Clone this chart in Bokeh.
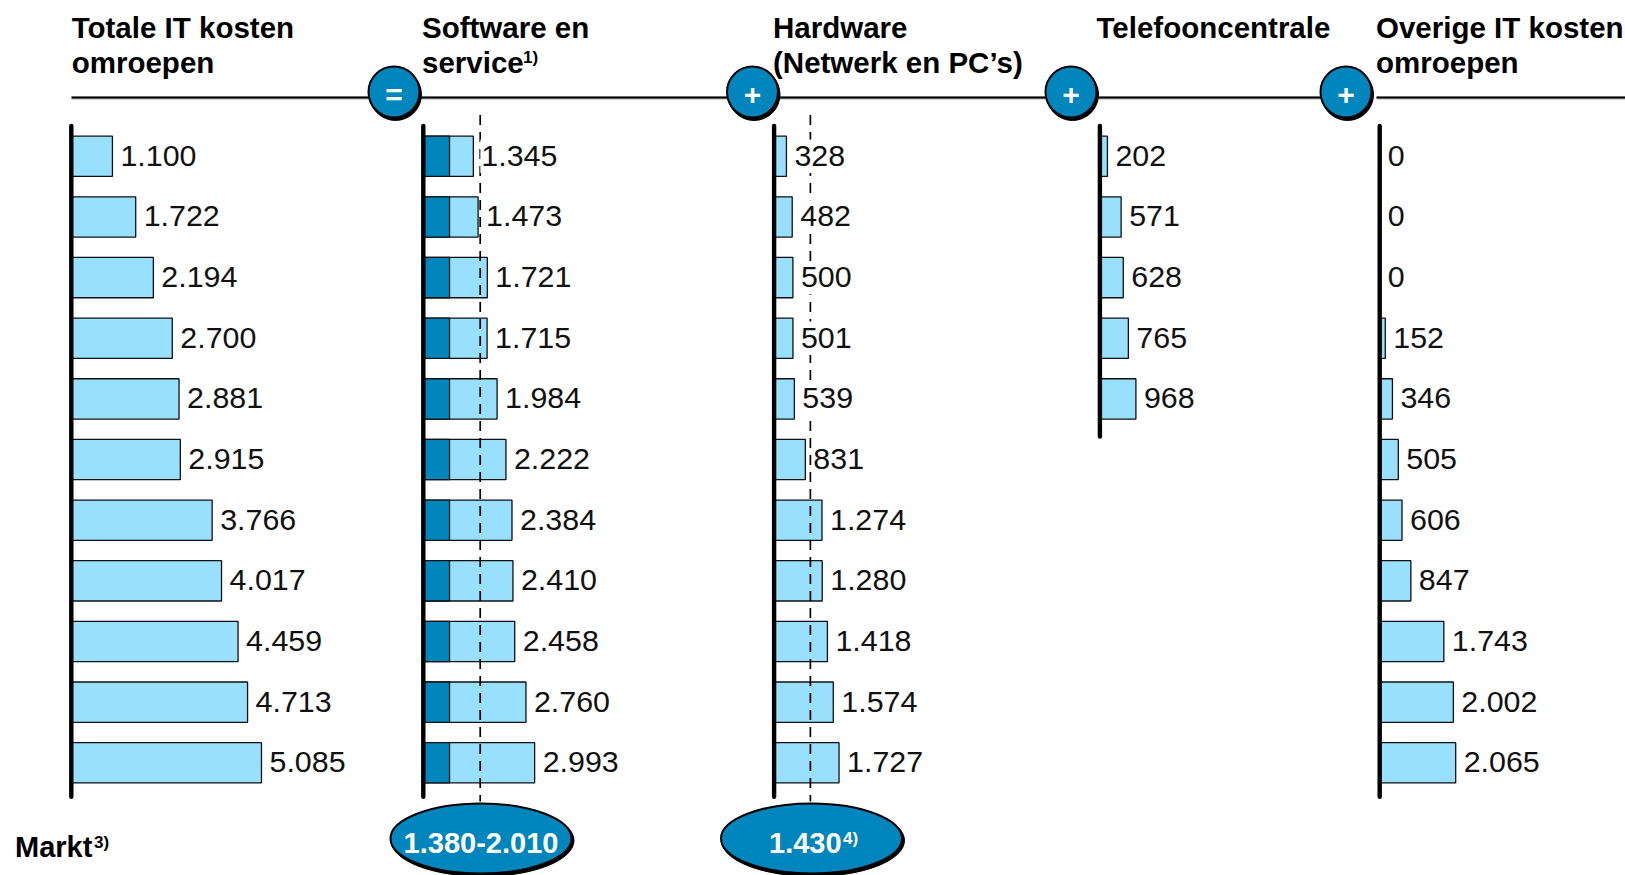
from bokeh.plotting import figure
from bokeh.models import Range1d
from bokeh.core.properties import value
from bokeh.embed import file_html
from bokeh.resources import INLINE

total = [1100, 1722, 2194, 2700, 2881, 2915, 3766, 4017, 4459, 4713, 5085]
software = [1345, 1473, 1721, 1715, 1984, 2222, 2384, 2410, 2458, 2760, 2993]
software_dark = [705] * 11
hardware = [328, 482, 500, 501, 539, 831, 1274, 1280, 1418, 1574, 1727]
telefoon = [202, 571, 628, 765, 968]
overig = [0, 0, 0, 152, 346, 505, 606, 847, 1743, 2002, 2065]
software_ref = 1530
hardware_ref = 965
titles = [["Totale IT kosten", "omroepen"], ["Software en", "service"],
          ["Hardware", "(Netwerk en PC\u2019s)"], ["Telefooncentrale"],
          ["Overige IT kosten", "omroepen"]]
market = ["1.380-2.010", "1.430"]

LIGHT, DARK = "#99E0FF", "#0085BC"
FONT = value("Liberation Sans")
W, H = 1625, 875
OX, OY = 0, 0
LABEL_PX, LABEL_GAP = 30.4, 8

p = figure(width=W, height=H, output_backend="svg", toolbar_location=None,
           x_axis_type=None, y_axis_type=None, min_border=0,
           outline_line_color=None, background_fill_color="white",
           x_range=Range1d(OX, OX + W), y_range=Range1d(OY + H, OY))
p.grid.visible = False

ROW0, PITCH = 155.8, 60.65
p.extra_y_ranges["rows"] = Range1d((OY + H - ROW0) / PITCH, (OY - ROW0) / PITCH)

panels = [("a", total, 70.8, .0374), ("b", software, 422.8, .0372),
          ("c", hardware, 773.6, .0376), ("d", telefoon, 1099.4, .0372),
          ("e", overig, 1379.2, .0368)]


def fmt(v):
    return f"{v:,}".replace(",", ".")


def label_width(s):
    return sum(0.278 if ch == "." else 0.556 for ch in s) * LABEL_PX


for name, vals, x0, k in panels:
    p.extra_x_ranges[name] = Range1d((OX - x0) / k, (OX + W - x0) / k)
    rows = list(range(len(vals)))
    p.hbar(y=rows, left=0, right=vals, height=0.665, fill_color=LIGHT, line_color="#101010",
           line_width=1.3, x_range_name=name, y_range_name="rows")
    if name == "b":
        p.hbar(y=rows, left=0, right=software_dark, height=0.665, fill_color=DARK, line_color="#101010",
               line_width=1.3, x_range_name=name, y_range_name="rows")

# dashed reference lines
for name, v in (("b", software_ref), ("c", hardware_ref)):
    p.segment(x0=[v], x1=[v], y0=[-0.68], y1=[10.64], line_color="black", line_width=1.7,
              line_dash="10 7", x_range_name=name, y_range_name="rows")

# baselines
for name, vals, x0, k in panels:
    bottom = 10.56 if len(vals) == 11 else 4.62
    p.segment(x0=[0], x1=[0], y0=[-0.5], y1=[bottom], line_color="black", line_width=4.4,
              line_cap="round", x_range_name=name, y_range_name="rows")

# value labels: white boxes interrupt the dashed lines
for name, vals, x0, k in panels:
    rows = list(range(len(vals)))
    labels = [fmt(v) for v in vals]
    p.hbar(y=rows, left=[v + (LABEL_GAP - 1) / k for v in vals],
           right=[v + (LABEL_GAP + 1 + label_width(s)) / k for v, s in zip(vals, labels)],
           height=0.55, fill_color="white", line_color=None, x_range_name=name, y_range_name="rows")
    p.text(x=vals, y=[i - 0.01 for i in rows], text=labels, text_font=FONT,
           text_font_size=f"{LABEL_PX}px", text_color="#111111", text_baseline="middle", x_offset=LABEL_GAP,
           x_range_name=name, y_range_name="rows")

# header rule
p.segment(x0=[71, 1376], x1=[1372, 1625], y0=[97.5, 97.5], y1=[97.5, 97.5], line_color="#b0b0b0", line_width=3)
p.segment(x0=[71, 1376], x1=[1372, 1625], y0=[97, 97], y1=[97, 97], line_color="black", line_width=2)

# operator badges
cx = [393.5, 752, 1070.5, 1345.5]
sym = ["=", "+", "+", "+"]
p.circle(x=[c + 1.5 for c in cx], y=[94] * 4, radius=26, fill_color="black", line_color="black")
p.circle(x=cx, y=[91.5] * 4, radius=25.5, fill_color=DARK, line_color="black", line_width=2)
p.text(x=cx, y=[94] * 4, text=sym, text_font=FONT, text_font_style="bold", text_font_size="30px",
       text_color="white", text_align="center", text_baseline="middle")

# column titles
tx = [71.2, 421.5, 772.5, 1096, 1375.5]
for x, lines in zip(tx, titles):
    for j, t in enumerate(lines):
        p.text(x=[x], y=[27 + 35 * j], text=[t], text_font=FONT, text_font_style="bold",
               text_font_size="29.5px", text_color="black", text_baseline="middle")
p.text(x=[522.5], y=[57], text=["1)"], text_font=FONT, text_font_style="bold", text_font_size="17px",
       text_color="black", text_baseline="middle")

# market row
p.text(x=[14.5], y=[846], text=["Markt"], text_font=FONT, text_font_style="bold", text_font_size="29px",
       text_color="black", text_baseline="middle")
p.text(x=[93.5], y=[842], text=["3)"], text_font=FONT, text_font_style="bold", text_font_size="17px",
       text_color="black", text_baseline="middle")
ex = [480.5, 811]
p.ellipse(x=[e + 1.5 for e in ex], y=[840] * 2, width=183, height=72, fill_color="black", line_color="black")
p.ellipse(x=ex, y=[838] * 2, width=181, height=70, fill_color=DARK, line_color="black", line_width=2)
p.text(x=[480.5], y=[842], text=[market[0]], text_font=FONT, text_font_style="bold", text_font_size="29px",
       text_color="white", text_align="center", text_baseline="middle")
p.text(x=[768.5], y=[842], text=[market[1]], text_font=FONT, text_font_style="bold", text_font_size="29px",
       text_color="white", text_baseline="middle")
p.text(x=[842.5], y=[838], text=["4)"], text_font=FONT, text_font_style="bold", text_font_size="17px",
       text_color="white", text_baseline="middle")

open("out.html", "w").write(file_html(p, INLINE))
